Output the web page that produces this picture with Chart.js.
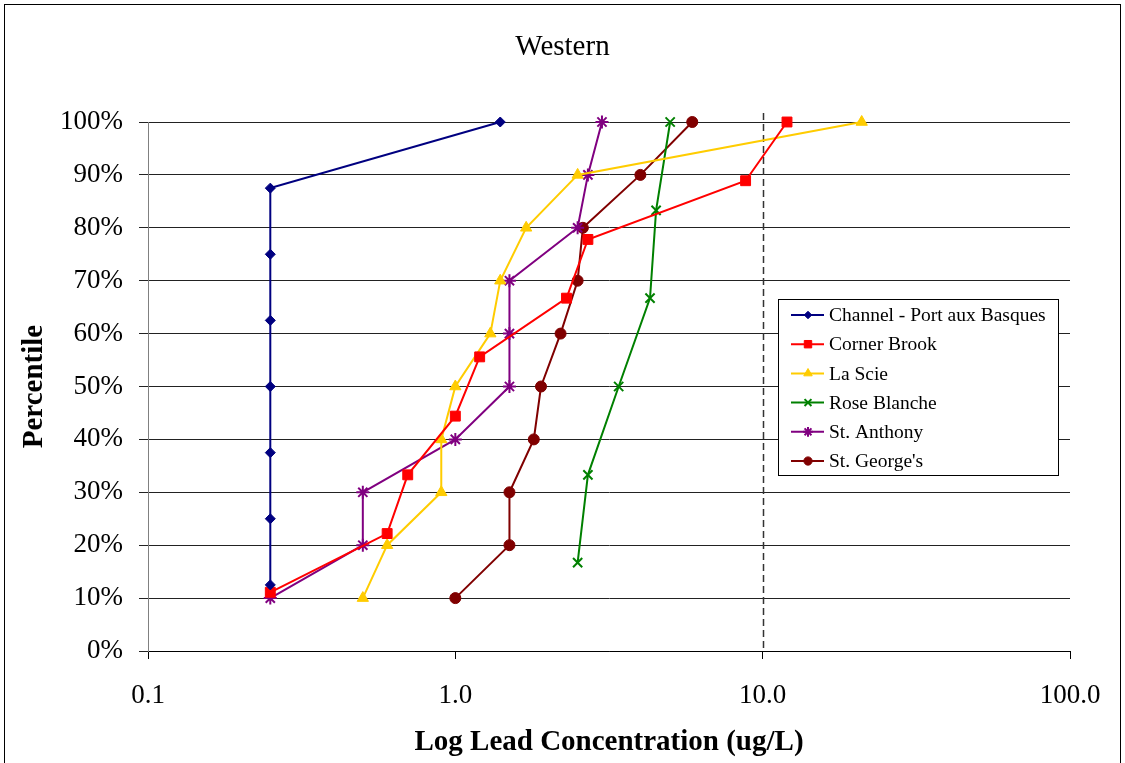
<!DOCTYPE html>
<html lang="en">
<head>
  <meta charset="UTF-8">
  <title>Western</title>
  <script src="https://cdn.jsdelivr.net/npm/chart.js"></script>
  <style>
    body {
      margin: 0;
      background: #ffffff;
    }
    #leadChart {
      display: block;
    }
  </style>
</head>
<body>

  <canvas id="leadChart" width="1125" height="763"></canvas>

  <script>
    // values (concentration in ug/L, percentile in %)
    const channelConc = [0.25, 0.25, 0.25, 0.25, 0.25, 0.25, 0.25, 1.4];
    const channelPct = [12.5, 25, 37.5, 50, 62.5, 75, 87.5, 100];

    const cornerConc = [0.25, 0.6, 0.7, 1.0, 1.2, 2.3, 2.7, 8.8, 12];
    const cornerPct = [11.1, 22.2, 33.3, 44.4, 55.6, 66.7, 77.8, 88.9, 100];

    const scieConc = [0.5, 0.6, 0.9, 0.9, 1.0, 1.3, 1.4, 1.7, 2.5, 21];
    const sciePct = [10, 20, 30, 40, 50, 60, 70, 80, 90, 100];

    const roseConc = [2.5, 2.7, 3.4, 4.3, 4.5, 5.0];
    const rosePct = [16.7, 33.3, 50, 66.7, 83.3, 100];

    const anthonyConc = [0.25, 0.5, 0.5, 1.0, 1.5, 1.5, 1.5, 2.5, 2.7, 3.0];
    const anthonyPct = [10, 20, 30, 40, 50, 60, 70, 80, 90, 100];

    const georgeConc = [1.0, 1.5, 1.5, 1.8, 1.9, 2.2, 2.5, 2.6, 4.0, 5.9];
    const georgePct = [10, 20, 30, 40, 50, 60, 70, 80, 90, 100];

    const xTickValues = [0.1, 1, 10, 100];
    const guidelineValue = 10;

    const serif = "'Liberation Serif', 'Times New Roman', serif";

    function pairs(xs, ys) {
      return xs.map((x, i) => ({ x: x, y: ys[i] }));
    }

    function series(label, xs, ys, color, style, radius) {
      return {
        label: label,
        data: pairs(xs, ys),
        borderColor: color,
        backgroundColor: color,
        borderWidth: 2,
        pointStyle: style,
        pointRadius: radius,
        pointBorderWidth: (style === 'crossRot' || style === 'star') ? 2 : 1,
        pointBorderColor: color,
        pointBackgroundColor: color,
        tension: 0,
        fill: false,
        clip: false
      };
    }

    const datasets = [
      series('Channel - Port aux Basques', channelConc, channelPct, '#000080', 'rectRot', 5),
      series('Corner Brook', cornerConc, cornerPct, '#ff0000', 'rect', 7),
      series('La Scie', scieConc, sciePct, '#ffcc00', 'triangle', 6.5),
      series('Rose Blanche', roseConc, rosePct, '#008000', 'crossRot', 6.5),
      series('St. Anthony', anthonyConc, anthonyPct, '#800080', 'star', 6.5),
      series("St. George's", georgeConc, georgePct, '#800000', 'circle', 5.5)
    ];

    // white page with the thin frame round it
    const framePlugin = {
      id: 'frame',
      beforeDraw(chart) {
        const c = chart.ctx;
        c.save();
        c.fillStyle = '#ffffff';
        c.fillRect(0, 0, chart.width, chart.height);
        c.strokeStyle = '#000000';
        c.lineWidth = 1;
        c.strokeRect(4.5, 4.5, chart.width - 9, chart.height + 20);
        c.restore();
      }
    };

    // dashed guideline at 10 ug/L
    const guidePlugin = {
      id: 'guide',
      beforeDatasetsDraw(chart) {
        const c = chart.ctx;
        const x = Math.round(chart.scales.x.getPixelForValue(guidelineValue)) + 0.5;
        const area = chart.chartArea;
        c.save();
        c.strokeStyle = '#333333';
        c.lineWidth = 1.5;
        c.setLineDash([7, 4]);
        c.beginPath();
        c.moveTo(x, area.top - 9);
        c.lineTo(x, area.bottom);
        c.stroke();
        c.restore();
      }
    };

    // boxed legend inside the plot area
    const boxLegendPlugin = {
      id: 'boxLegend',
      afterDraw(chart) {
        const c = chart.ctx;
        const area = chart.chartArea;
        const left = area.right - 292;
        const top = area.top + 177;
        const w = 280;
        const rowH = 29.2;
        const h = 176;
        c.save();
        c.fillStyle = '#ffffff';
        c.fillRect(left, top, w, h);
        c.strokeStyle = '#000000';
        c.lineWidth = 1;
        c.strokeRect(left + 0.5, top + 0.5, w, h);
        c.font = '19.5px ' + serif;
        c.textBaseline = 'middle';
        c.fillStyle = '#000000';
        chart.data.datasets.forEach((ds, i) => {
          const y = top + 16 + i * rowH;
          c.strokeStyle = ds.borderColor;
          c.lineWidth = 2;
          c.beginPath();
          c.moveTo(left + 13, y);
          c.lineTo(left + 46, y);
          c.stroke();
          c.fillStyle = ds.backgroundColor;
          c.strokeStyle = ds.borderColor;
          c.lineWidth = ds.pointBorderWidth;
          Chart.helpers.drawPoint(c, {
            pointStyle: ds.pointStyle,
            radius: ds.pointRadius * 0.75,
            rotation: 0,
            borderWidth: ds.pointBorderWidth
          }, left + 30, y);
          c.fillStyle = '#000000';
          c.fillText(ds.label, left + 51, y + 1);
        });
        c.restore();
      }
    };

    const ctx = document.getElementById('leadChart').getContext('2d');

    const leadChart = new Chart(ctx, {
      type: 'line',
      data: { datasets: datasets },
      plugins: [framePlugin, guidePlugin, boxLegendPlugin],
      options: {
        responsive: false,
        animation: false,
        layout: {
          padding: 0
        },
        plugins: {
          legend: { display: false },
          tooltip: { enabled: false },
          title: {
            display: true,
            text: 'Western',
            color: '#000000',
            font: { family: serif, size: 29, weight: 'normal' },
            padding: { top: 29.6, bottom: 57.6 }
          }
        },
        scales: {
          x: {
            type: 'logarithmic',
            min: 0.1,
            max: 100,
            afterBuildTicks: (scale) => {
              scale.ticks = xTickValues.map(v => ({ value: v }));
            },
            afterFit: (scale) => {
              scale.height = 112;
              scale.paddingRight = 55;
            },
            ticks: {
              color: '#000000',
              font: { family: serif, size: 27 },
              padding: 21,
              maxRotation: 0,
              autoSkip: false,
              callback: (v) => Number(v).toFixed(1)
            },
            grid: {
              drawOnChartArea: false,
              drawTicks: true,
              tickLength: 8,
              color: '#000000'
            },
            border: { display: true, color: '#000000' },
            title: {
              display: true,
              text: 'Log Lead Concentration (ug/L)',
              color: '#000000',
              font: { family: serif, size: 29, weight: 'bold' },
              padding: { top: 0, bottom: 2.6 }
            }
          },
          y: {
            min: 0,
            max: 100,
            afterFit: (scale) => {
              scale.width = 148;
            },
            ticks: {
              stepSize: 10,
              color: '#000000',
              font: { family: serif, size: 27 },
              padding: 16,
              callback: (v) => v + '%'
            },
            grid: {
              color: '#222222',
              drawTicks: true,
              tickLength: 9
            },
            border: { display: true, color: '#808080' },
            title: {
              display: true,
              text: 'Percentile',
              color: '#000000',
              font: { family: serif, size: 29, weight: 'bold' },
              padding: { top: 17.6, bottom: 0 }
            }
          }
        }
      }
    });
  </script>

</body>
</html>
